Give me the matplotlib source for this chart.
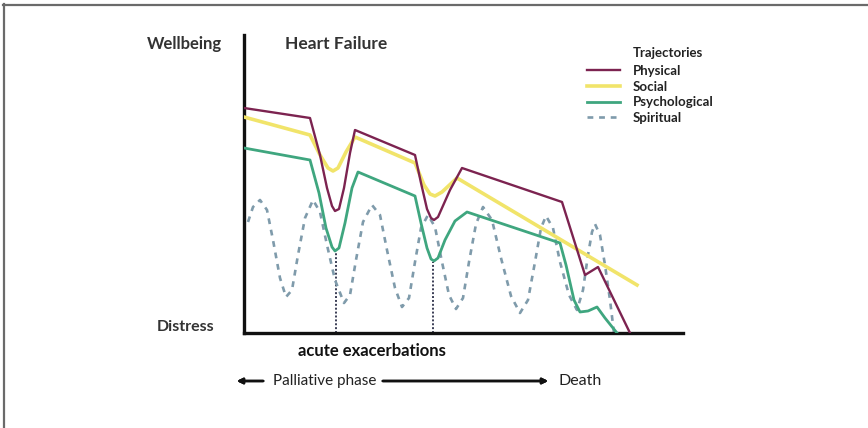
import matplotlib
matplotlib.use("Agg")
import matplotlib.pyplot as plt
from matplotlib.lines import Line2D

plt.rcParams['font.family'] = ['Lato', 'DejaVu Sans']

W, H = 868, 428
# plot area in pixels of the original picture
X0, X1, Y0, Y1 = 244, 683, 333, 35

# trajectories (x = time, y = wellbeing, both in px units from the axes origin)
phys_x = [0, 66, 76, 83, 88, 91, 95, 100, 106, 111, 171, 177, 183, 187, 190, 194, 206, 218, 318, 341, 354, 386]
phys_y = [225, 215, 178, 145, 127, 122, 124, 145, 180, 203, 178, 150, 124, 115, 113, 116, 143, 165, 131, 58, 66, 0]

soc_x = [0, 66, 76, 84, 89, 94, 102, 111, 171, 180, 186, 191, 198, 213, 393]
soc_y = [216, 198, 178, 165, 162, 165, 181, 196, 170, 148, 139, 137, 141, 155, 48]

psy_x = [0, 66, 75, 82, 88, 91, 95, 101, 108, 114, 171, 177, 183, 187, 190, 194, 201, 211, 223, 316, 322, 330, 336, 344, 353, 361, 373]
psy_y = [185, 173, 140, 105, 86, 82, 85, 110, 145, 161, 137, 110, 85, 74, 72, 75, 93, 112, 121, 90, 68, 33, 21, 22, 26, 15, 0]

spi_x = [4, 9, 16, 23, 29, 36, 42, 48, 54, 61, 69, 76, 83, 91, 100, 106, 112, 119, 128, 136,
         143, 151, 158, 165, 171, 177, 184, 191, 198, 205, 212, 219, 225, 232, 239, 248, 257,
         267, 276, 284, 291, 297, 302, 309, 316, 325, 333, 339, 344, 348, 351, 356, 361, 366, 370]
spi_y = [111, 126, 133, 123, 93, 55, 36, 43, 78, 115, 133, 121, 88, 53, 30, 38, 73, 111, 128,
         118, 83, 45, 26, 35, 71, 105, 118, 106, 71, 38, 24, 35, 71, 109, 126, 113, 75, 37, 20,
         33, 71, 105, 117, 105, 71, 38, 23, 43, 78, 101, 109, 98, 68, 33, 0]

# acute exacerbations (dotted drop lines)
exac_x = [92, 189]
exac_top = [80, 71]

fig = plt.figure(figsize=(W / 100, H / 100), dpi=100)
ax = fig.add_axes([X0 / W, 1 - Y0 / H, (X1 - X0) / W, (Y0 - Y1) / H])
ax.set_xlim(0, X1 - X0)
ax.set_ylim(0, Y0 - Y1)
for s in ['top', 'right']:
    ax.spines[s].set_visible(False)
for s in ['left', 'bottom']:
    ax.spines[s].set_linewidth(2.4)
    ax.spines[s].set_color('#111111')
ax.set_xticks([])
ax.set_yticks([])
ax.patch.set_alpha(0)

for x, t in zip(exac_x, exac_top):
    ax.plot([x, x], [0, t], color='#3a3d55', lw=1.4, ls=(0, (1, 1)), zorder=1)

ax.plot(spi_x, spi_y, color='#7f9bab', lw=1.9, ls=(0, (2.2, 2.2)), label='Spiritual', zorder=2)
ax.plot(soc_x, soc_y, color='#f1e46a', lw=2.6, label='Social', zorder=3, solid_joinstyle='round')
ax.plot(psy_x, psy_y, color='#3fa67f', lw=2.0, label='Psychological', zorder=4, solid_joinstyle='round')
ax.plot(phys_x, phys_y, color='#7c2350', lw=1.7, label='Physical', zorder=5, solid_joinstyle='round')

h, l = ax.get_legend_handles_labels()
order = ['Physical', 'Social', 'Psychological', 'Spiritual']
hh = [h[l.index(o)] for o in order]
leg = fig.legend(hh, order, loc='upper left', bbox_to_anchor=(587 / W, 1 - 65 / H),
                 frameon=False, fontsize=9.5, handlelength=2.5, handletextpad=0.95,
                 labelspacing=0.27, borderpad=0, borderaxespad=0)
for t in leg.get_texts():
    t.set_fontweight('bold')
    t.set_color('#222222')

fig.text(633 / W, 1 - 53 / H, 'Trajectories', fontsize=9.5, fontweight='bold', va='center', color='#222222')
fig.text(147 / W, 1 - 44 / H, 'Wellbeing', fontsize=12, fontweight='bold', va='center', color='#333333')
fig.text(285 / W, 1 - 44 / H, 'Heart Failure', fontsize=12.5, fontweight='bold', va='center', color='#333333')
fig.text(157 / W, 1 - 327 / H, 'Distress', fontsize=11.5, fontweight='bold', va='center', color='#333333')
fig.text(372 / W, 1 - 351 / H, 'acute exacerbations', fontsize=12, fontweight='bold', va='center',
         ha='center', color='#111111')
fig.text(273 / W, 1 - 381 / H, 'Palliative phase', fontsize=11, va='center', color='#222222')
fig.text(558 / W, 1 - 381 / H, 'Death', fontsize=11.5, va='center', color='#222222')

fig.add_artist(plt.annotate('', xy=(234 / W, 1 - 381 / H), xytext=(266 / W, 1 - 381 / H),
                            xycoords='figure fraction',
                            arrowprops=dict(arrowstyle='-|>', lw=1.8, color='#111111', mutation_scale=8)))
fig.add_artist(plt.annotate('', xy=(551 / W, 1 - 381 / H), xytext=(380 / W, 1 - 381 / H),
                            xycoords='figure fraction',
                            arrowprops=dict(arrowstyle='-|>', lw=1.8, color='#111111', mutation_scale=8)))

# picture frame (top and left edges)
fig.add_artist(Line2D([3 / W, 1], [1 - 4.5 / H, 1 - 4.5 / H], color='#6a6a6a', lw=1.6))
fig.add_artist(Line2D([3.5 / W, 3.5 / W], [0, 1 - 4 / H], color='#6a6a6a', lw=1.6))

fig.savefig('out.png', dpi=100)
